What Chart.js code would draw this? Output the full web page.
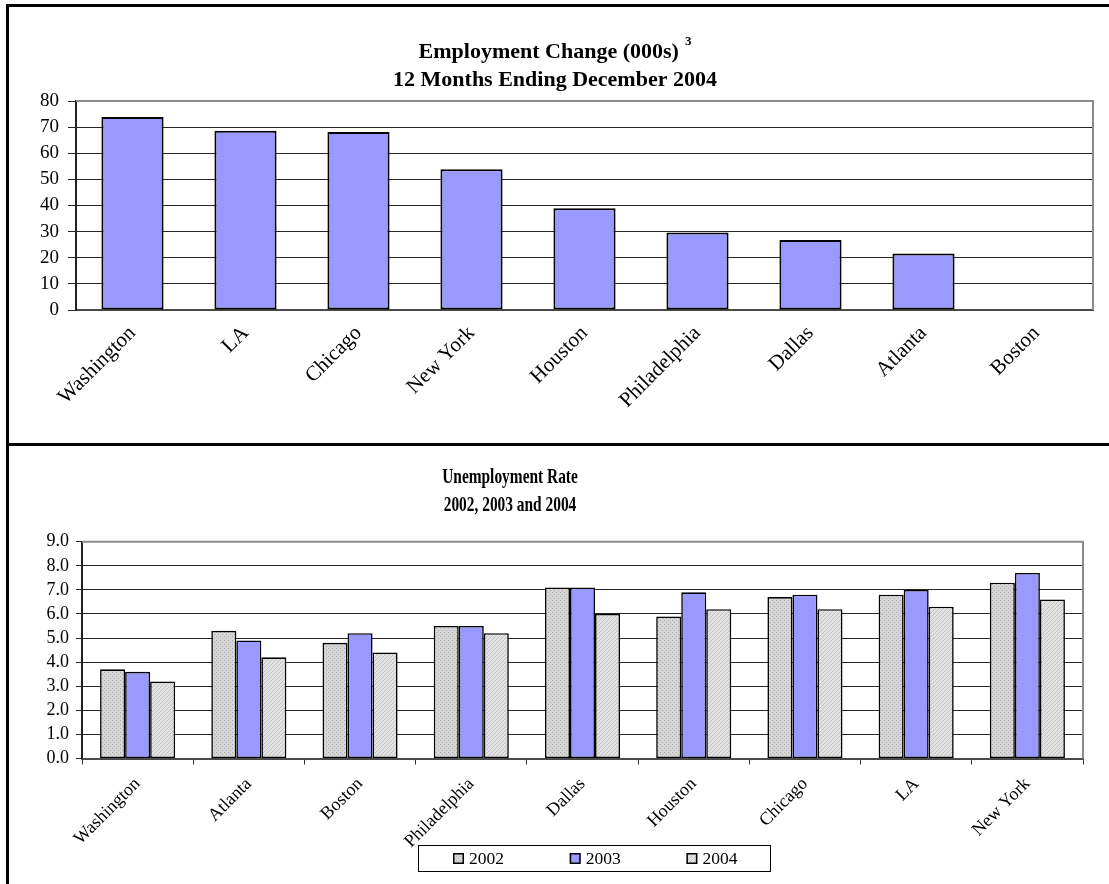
<!DOCTYPE html>
<html>
<head>
<meta charset="utf-8">
<script src="https://cdn.jsdelivr.net/npm/chart.js@4"></script>
<style>
  html, body { margin: 0; padding: 0; background: #fff; }
  body { width: 1109px; height: 884px; overflow: hidden; position: relative; }
  #frame { position: absolute; left: 6px; top: 4px; width: 1103px; height: 880px;
           border-left: 3px solid #000; border-top: 3px solid #000; }
  #divider { position: absolute; left: 6px; top: 443px; width: 1103px; height: 3px; background: #000; }
  #empChart { position: absolute; left: 10px; top: 7px; }
  #rateChart { position: absolute; left: 10px; top: 446px; }
</style>
</head>
<body>
<div id="frame"></div>
<div id="divider"></div>
<canvas id="empChart" width="1099" height="436"></canvas>
<canvas id="rateChart" width="1099" height="438"></canvas>
<script>
// ---- Employment change, 12 months ending Dec 2004 (thousands) ----
const empCities = ['Washington', 'LA', 'Chicago', 'New York', 'Houston', 'Philadelphia', 'Dallas', 'Atlanta', 'Boston'];
const empChange = [73.9, 68.6, 68.1, 53.9, 38.9, 29.7, 26.8, 21.6, 0];
const empTitle = ['Employment Change (000s)', '12 Months Ending December 2004'];
const empNote = '3';
const empAxis = { min: 0, max: 80, step: 10 };

// ---- Unemployment rate by metro area ----
const rateCities = ['Washington', 'Atlanta', 'Boston', 'Philadelphia', 'Dallas', 'Houston', 'Chicago', 'LA', 'New York'];
const years = ['2002', '2003', '2004'];
const rate2002 = [3.7, 5.3, 4.8, 5.5, 7.1, 5.9, 6.7, 6.8, 7.3];
const rate2003 = [3.6, 4.9, 5.2, 5.5, 7.1, 6.9, 6.8, 7.0, 7.7];
const rate2004 = [3.2, 4.2, 4.4, 5.2, 6.0, 6.2, 6.2, 6.3, 6.6];
const rateTitle = ['Unemployment Rate', '2002, 2003 and 2004'];
const rateAxis = { min: 0, max: 9, step: 1 };

const SERIF = '"Liberation Serif", "Times New Roman", serif';
const BLUE = '#9999ff';

// small repeating textures for the grey bars
function texture(ctx, base, ink, cells) {
  const t = document.createElement('canvas');
  t.width = 4; t.height = 4;
  const g = t.getContext('2d');
  g.fillStyle = base; g.fillRect(0, 0, 4, 4);
  g.fillStyle = ink;
  cells.forEach(([x, y]) => g.fillRect(x, y, 1, 1));
  return ctx.createPattern(t, 'repeat');
}

// multi-line bold heading with optional superscript note
const headline = {
  id: 'headline',
  afterDraw(chart, args, o) {
    const ctx = chart.ctx;
    ctx.save();
    ctx.fillStyle = '#000';
    ctx.textBaseline = 'alphabetic';
    ctx.textAlign = 'left';
    o.lines.forEach((line, i) => {
      ctx.font = `bold ${o.size}px ${SERIF}`;
      const w = ctx.measureText(line).width * o.squeeze;
      let supW = 0;
      if (i === 0 && o.note) {
        ctx.font = `bold ${o.noteSize}px ${SERIF}`;
        supW = o.noteGap + ctx.measureText(o.note).width;
      }
      const left = o.x - (w + supW) / 2;
      ctx.save();
      ctx.translate(left, o.baselines[i]);
      ctx.scale(o.squeeze, 1);
      ctx.font = `bold ${o.size}px ${SERIF}`;
      ctx.fillText(line, 0, 0);
      ctx.restore();
      if (i === 0 && o.note) {
        ctx.font = `bold ${o.noteSize}px ${SERIF}`;
        ctx.fillText(o.note, left + w + o.noteGap, o.baselines[i] - o.noteRise);
      }
    });
    ctx.restore();
  }
};

// grey outline on the top and right of the plot area
const plotFrame = {
  id: 'plotFrame',
  beforeDatasetsDraw(chart) {
    const { ctx, chartArea: a } = chart;
    ctx.save();
    ctx.strokeStyle = '#8c8c8c';
    ctx.lineWidth = 2;
    ctx.beginPath();
    ctx.moveTo(a.left, a.top);
    ctx.lineTo(a.right, a.top);
    ctx.lineTo(a.right, a.bottom);
    ctx.stroke();
    ctx.restore();
  }
};

// boxed legend built from the dataset labels and fills
const boxLegend = {
  id: 'boxLegend',
  afterDraw(chart, args, o) {
    const ctx = chart.ctx;
    ctx.save();
    ctx.fillStyle = '#fff';
    ctx.fillRect(o.x, o.y, o.w, o.h);
    ctx.strokeStyle = '#000';
    ctx.lineWidth = 1;
    ctx.strokeRect(o.x + 0.5, o.y + 0.5, o.w, o.h);
    ctx.font = `${o.size}px ${SERIF}`;
    ctx.textBaseline = 'middle';
    ctx.textAlign = 'left';
    chart.data.datasets.forEach((ds, i) => {
      const sx = o.x + o.first + i * o.step;
      const sy = Math.round(o.y + o.h / 2 - o.box / 2);
      ctx.fillStyle = ds.backgroundColor;
      ctx.fillRect(sx, sy, o.box, o.box);
      ctx.lineWidth = 1.5;
      ctx.strokeRect(sx + 0.75, sy + 0.75, o.box - 1.5, o.box - 1.5);
      ctx.fillStyle = '#000';
      ctx.fillText(ds.label, sx + o.box + 5, o.y + o.h / 2 + 1);
    });
    ctx.restore();
  }
};

function yGrid(max, tickLen) {
  return {
    color: c => (c.tick && c.tick.value === max) ? 'rgba(0,0,0,0)' : '#262626',
    tickColor: '#262626',
    tickLength: tickLen,
    drawTicks: true,
    lineWidth: 1
  };
}

// ---------- chart 1 ----------
new Chart(document.getElementById('empChart'), {
  type: 'bar',
  data: {
    labels: empCities,
    datasets: [{
      label: 'Employment change',
      data: empChange,
      backgroundColor: BLUE,
      borderColor: '#000',
      borderWidth: 2,
      borderSkipped: false,
      categoryPercentage: 1,
      barPercentage: 0.55
    }]
  },
  options: {
    responsive: false,
    devicePixelRatio: 1,
    animation: false,
    events: [],
    layout: { padding: { top: 94, right: 16, left: 0, bottom: 0 } },
    plugins: {
      legend: { display: false },
      title: { display: false },
      tooltip: { enabled: false },
      headline: { lines: empTitle, note: empNote, x: 545, baselines: [51, 79], size: 22,
                  squeeze: 1, noteSize: 13, noteGap: 6, noteRise: 13 }
    },
    scales: {
      x: {
        grid: { display: false },
        border: { display: true, color: '#4a4a4a', width: 2 },
        ticks: { autoSkip: false, minRotation: 45, maxRotation: 45, padding: 3,
                 color: '#000', font: { family: SERIF, size: 21 } },
        afterFit(s) { s.height = 133; }
      },
      y: {
        min: empAxis.min, max: empAxis.max,
        ticks: { stepSize: empAxis.step, autoSkip: false, padding: 9, color: '#000',
                 font: { family: SERIF, size: 19 } },
        grid: yGrid(empAxis.max, 8),
        border: { color: '#222', width: 2 },
        afterFit(s) { s.width = 66; }
      }
    }
  },
  plugins: [headline, plotFrame]
});

// ---------- chart 2 ----------
const rateCanvas = document.getElementById('rateChart');
const rctx = rateCanvas.getContext('2d');
const fill2002 = texture(rctx, '#d6d6d6', '#ababab', [[0, 0], [2, 2]]);
const fill2004 = texture(rctx, '#e2e2e2', '#c2c2c2', [[0, 3], [1, 2], [2, 1], [3, 0]]);
const rateSeries = [rate2002, rate2003, rate2004];
const rateFills = [fill2002, BLUE, fill2004];

new Chart(rateCanvas, {
  type: 'bar',
  data: {
    labels: rateCities,
    datasets: years.map((y, i) => ({
      label: y,
      data: rateSeries[i],
      backgroundColor: rateFills[i],
      borderColor: '#000',
      borderWidth: 1.6,
      borderSkipped: false,
      categoryPercentage: 0.675,
      barPercentage: 1
    }))
  },
  options: {
    responsive: false,
    devicePixelRatio: 1,
    animation: false,
    events: [],
    layout: { padding: { top: 95.7, right: 26, left: 0, bottom: 0 } },
    plugins: {
      legend: { display: false },
      title: { display: false },
      tooltip: { enabled: false },
      headline: { lines: rateTitle, x: 500, baselines: [37, 65], size: 22, squeeze: 0.7 },
      boxLegend: { x: 408, y: 399, w: 352, h: 26, first: 35, step: 116.7, box: 11, size: 17.5 }
    },
    scales: {
      x: {
        grid: { display: true, offset: true, drawOnChartArea: false, drawTicks: true,
                tickLength: 6, color: '#333', tickColor: '#333' },
        border: { display: true, color: '#4a4a4a', width: 2 },
        ticks: { autoSkip: false, minRotation: 45, maxRotation: 45, padding: 9,
                 color: '#000', font: { family: SERIF, size: 18 } },
        afterFit(s) { s.height = 125.5; }
      },
      y: {
        min: rateAxis.min, max: rateAxis.max,
        ticks: { stepSize: rateAxis.step, autoSkip: false, padding: 7, color: '#000',
                 font: { family: SERIF, size: 18 }, callback: v => v.toFixed(1) },
        grid: yGrid(rateAxis.max, 6),
        border: { color: '#222', width: 2 },
        afterFit(s) { s.width = 72; }
      }
    }
  },
  plugins: [headline, plotFrame, boxLegend]
});
</script>
</body>
</html>
